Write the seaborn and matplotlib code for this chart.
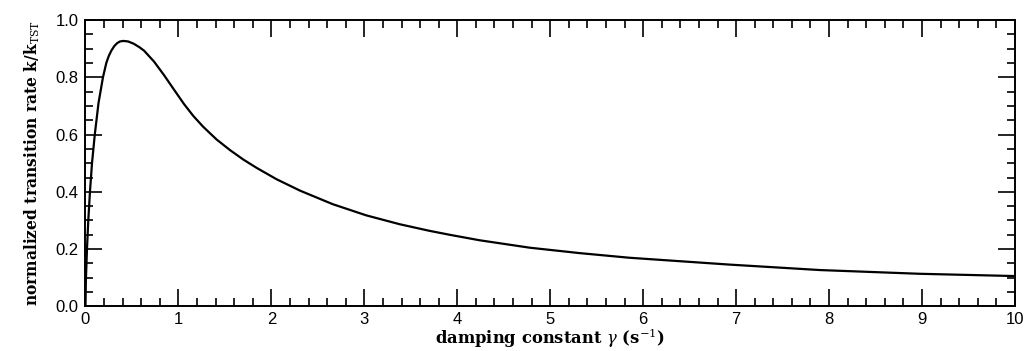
import matplotlib
matplotlib.use("Agg")
import matplotlib.pyplot as plt
from matplotlib.ticker import MultipleLocator, FormatStrFormatter
import seaborn as sns
import pandas as pd

# Normalized transition rate versus damping constant (Kramers turnover)
gamma = [0.0, 0.004, 0.016, 0.03, 0.048, 0.07, 0.10, 0.14, 0.188, 0.224,
         0.25, 0.278, 0.31, 0.34, 0.37, 0.407, 0.46, 0.52, 0.58, 0.63,
         0.737, 0.844, 0.95, 1.059, 1.16, 1.267, 1.41, 1.554, 1.697, 1.84,
         2.056, 2.31, 2.66, 3.02, 3.38, 3.70, 3.92, 4.24, 4.78, 5.32,
         5.85, 6.39, 6.93, 7.90, 8.97, 10.0]
rate = [0.0, 0.09, 0.20, 0.30, 0.40, 0.50, 0.60, 0.71, 0.80, 0.85,
        0.874, 0.893, 0.909, 0.919, 0.925, 0.927, 0.925, 0.917, 0.905, 0.893,
        0.855, 0.808, 0.758, 0.707, 0.665, 0.627, 0.583, 0.546, 0.513, 0.484,
        0.444, 0.404, 0.357, 0.318, 0.287, 0.264, 0.250, 0.231, 0.205, 0.186,
        0.170, 0.158, 0.146, 0.127, 0.114, 0.106]

x_ticks = [0, 1, 2, 3, 4, 5, 6, 7, 8, 9, 10]
y_ticks = [0.0, 0.2, 0.4, 0.6, 0.8, 1.0]

df = pd.DataFrame({"gamma": gamma, "rate": rate})

sns.set_theme(style="ticks")
plt.rcParams["font.family"] = ["Liberation Sans", "DejaVu Sans"]
plt.rcParams["mathtext.fontset"] = "dejavuserif"

fig = plt.figure(figsize=(10.30, 3.51), dpi=100)
ax = fig.add_axes([0.083, 0.127, 0.9024, 0.816])

sns.lineplot(data=df, x="gamma", y="rate", color="black", linewidth=1.6,
             sort=False, ax=ax)

ax.set_xlim(0, 10)
ax.set_ylim(0, 1.0)
ax.set_xticks(x_ticks)
ax.set_yticks(y_ticks)
ax.xaxis.set_minor_locator(MultipleLocator(0.2))
ax.yaxis.set_minor_locator(MultipleLocator(0.05))
ax.yaxis.set_major_formatter(FormatStrFormatter("%.1f"))

for s in ax.spines.values():
    s.set_visible(True)
    s.set_linewidth(1.4)
    s.set_color("black")

ax.tick_params(which="both", direction="in", top=True, right=True,
               color="black", width=1.2)
ax.tick_params(which="major", length=12, labelsize=12, labelcolor="black")
ax.tick_params(axis="x", which="major", pad=4)
ax.tick_params(axis="y", which="major", pad=5)
ax.tick_params(which="minor", length=6)

serif_bold = dict(family="DejaVu Serif", weight="bold", color="black")
ax.set_xlabel(r"damping constant $\gamma$ (s$^{-1}$)", labelpad=0,
              fontsize=11.8, **serif_bold)
ax.set_ylabel(r"normalized transition rate k/k$_{\mathrm{TST}}$", labelpad=10,
              fontsize=11.2, **serif_bold)

fig.savefig("out.png", dpi=100, facecolor="white")
